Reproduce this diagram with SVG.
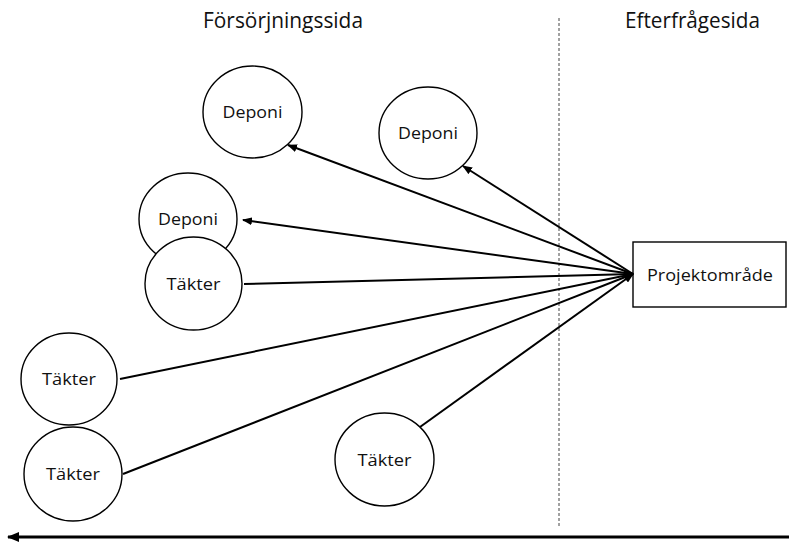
<svg xmlns="http://www.w3.org/2000/svg" width="789" height="543" viewBox="0 0 789 543">
  <style>
    .node ellipse, .node rect { fill: #fff; stroke: #000; stroke-width: 1.4; }
    .label { font-family: "Open Sans", "Noto Sans", "Liberation Sans", sans-serif; font-size: 17px; fill: #111; text-anchor: middle; }
    .title { font-family: "Open Sans", "Noto Sans", "Liberation Sans", sans-serif; font-size: 21px; fill: #111; }
    .flow { stroke: #000; stroke-width: 2; fill: none; marker-end: url(#arrow); }
  </style>
  <defs>
    <marker id="arrow" markerUnits="userSpaceOnUse" markerWidth="10" markerHeight="8" refX="9" refY="4" orient="auto">
      <path d="M0,0 L10,4 L0,8 Z" fill="#000"/>
    </marker>
    <marker id="bigArrow" markerUnits="userSpaceOnUse" markerWidth="12" markerHeight="10" refX="11" refY="5" orient="auto">
      <path d="M0,0 L12,5 L0,10 Z" fill="#000"/>
    </marker>
  </defs>

  <!-- Side headings -->
  <text class="title" x="203" y="28" textLength="160" lengthAdjust="spacingAndGlyphs">Försörjningssida</text>
  <text class="title" x="625" y="28" textLength="135" lengthAdjust="spacingAndGlyphs">Efterfrågesida</text>

  <!-- Divider between supply and demand side -->
  <line x1="559" y1="18" x2="559" y2="527" stroke="#444" stroke-width="1" stroke-dasharray="3,2"/>

  <!-- Nodes -->
  <g id="deponi-1" class="node">
    <ellipse cx="252.5" cy="112" rx="49.5" ry="46"/>
    <text class="label" x="252.5" y="118" textLength="60" lengthAdjust="spacingAndGlyphs">Deponi</text>
  </g>
  <g id="deponi-2" class="node">
    <ellipse cx="428" cy="133" rx="49" ry="46"/>
    <text class="label" x="428" y="139" textLength="60" lengthAdjust="spacingAndGlyphs">Deponi</text>
  </g>
  <g id="deponi-3" class="node">
    <ellipse cx="188" cy="219" rx="49" ry="46"/>
    <text class="label" x="188" y="225" textLength="60" lengthAdjust="spacingAndGlyphs">Deponi</text>
  </g>
  <g id="takter-1" class="node">
    <ellipse cx="193.5" cy="283.5" rx="48.5" ry="46.5"/>
    <text class="label" x="193.5" y="289.5" textLength="54" lengthAdjust="spacingAndGlyphs">Täkter</text>
  </g>
  <g id="takter-2" class="node">
    <ellipse cx="69" cy="379" rx="48" ry="46"/>
    <text class="label" x="69" y="385" textLength="54" lengthAdjust="spacingAndGlyphs">Täkter</text>
  </g>
  <g id="takter-3" class="node">
    <ellipse cx="73" cy="474" rx="49" ry="47"/>
    <text class="label" x="73" y="480" textLength="54" lengthAdjust="spacingAndGlyphs">Täkter</text>
  </g>
  <g id="takter-4" class="node">
    <ellipse cx="384.5" cy="459.5" rx="49.5" ry="46.5"/>
    <text class="label" x="384.5" y="465.5" textLength="54" lengthAdjust="spacingAndGlyphs">Täkter</text>
  </g>
  <g id="projektomrade" class="node">
    <rect x="633" y="242" width="153" height="65"/>
    <text class="label" x="710" y="280.5" textLength="126" lengthAdjust="spacingAndGlyphs">Projektområde</text>
  </g>

  <!-- Flows between project area, landfills and quarries -->
  <g id="connectors">
    <line class="flow" x1="633" y1="274" x2="288" y2="145"/>
    <line class="flow" x1="633" y1="274" x2="463" y2="166"/>
    <line class="flow" x1="633" y1="274" x2="243" y2="220"/>
    <line class="flow" x1="244" y1="284" x2="633" y2="274"/>
    <line class="flow" x1="120" y1="379" x2="633" y2="274"/>
    <line class="flow" x1="123" y1="474" x2="633" y2="274"/>
    <line class="flow" x1="420" y1="427" x2="633" y2="274"/>
    <!-- Bottom direction arrow -->
    <line x1="789" y1="537" x2="8" y2="537" stroke="#000" stroke-width="3" marker-end="url(#bigArrow)"/>
  </g>
</svg>
